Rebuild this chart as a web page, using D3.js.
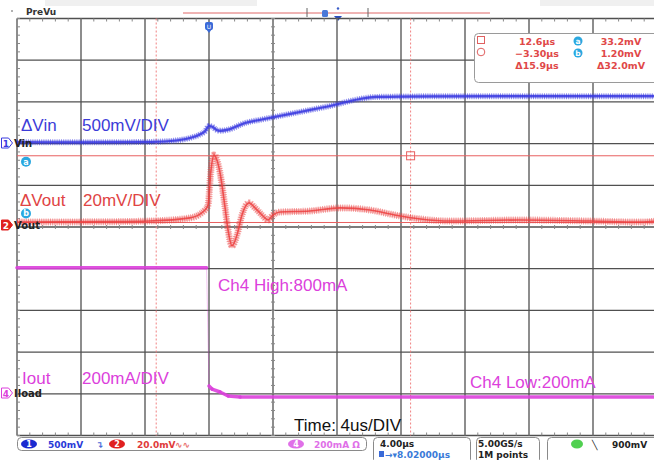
<!DOCTYPE html>
<html><head><meta charset="utf-8">
<script src="https://cdn.jsdelivr.net/npm/d3@7"></script>
<style>body{margin:0;background:#fff;} svg{display:block;}</style>
</head><body><svg id="c" width="654" height="460"></svg>
<script>
// ---------- data ----------
// time in microseconds (trigger at 0), 4 us / division
const timeTicks = [-12, -8, -4, 0, 4, 8, 12, 16, 20, 24, 28];
const divTicks = [-5, -4, -3, -2, -1, 0, 1, 2, 3, 4, 5];
// Ch1 Vin (AC, mV relative to marker), 500 mV/div
const vinT  = [-12, -8, -4, -2.4, -1.2, -0.6, -0.25, 0, 0.2, 0.45, 0.7, 1.2, 2.25, 3.3, 4.4, 6, 7.56, 9.44, 10.4, 14, 20, 28];
const vinMV = [10, 8, 12, 24, 60, 100, 140, 204, 196, 160, 146, 160, 240, 282, 324, 384, 444, 528, 552, 560, 562, 562];
// Ch2 Vout (AC, mV), 20 mV/div
const voutT  = [-12, -6, -3.7, -1.19, -0.25, -0.06, 0.125, 0.31, 0.5, 0.69, 1.0, 1.19, 1.44, 1.75, 2.06, 2.5, 2.875, 3.31, 3.69, 4.0, 4.44, 6.3, 8.2, 10.06, 11.6, 13.2, 15.06, 19.4, 23.8, 27, 28];
const voutMV = [1.4, 1.6, 1.9, 3.4, 7.2, 9.6, 26.4, 33.6, 31, 25, 8.6, -2.4, -10, -4.8, 4.8, 10.6, 8.2, 4.8, 2.4, 4.8, 6.2, 6.7, 8.2, 7.2, 4.8, 2.9, 1.9, 2.4, 1.9, 1.4, 1.9];
// Ch4 Iload (mA), 200 mA/div
const iT  = [-12, -0.15, 0.0, 0.19, 0.69, 1.2, 1.94, 28];
const iMA = [820, 820, 253, 238, 224, 205, 200, 200];
// cursors
const cursorT = [-3.30, 12.6];
const cursorMV = [33.2, 1.20];
const measLeft = ["12.6µs", "\u22123.30µs", "\u039415.9µs"];
const measRight = ["33.2mV", "1.20mV", "\u039432.0mV"];

// ---------- scales ----------
const svg = d3.select("#c");
const x = d3.scaleLinear().domain([-12, 28]).range([17, 657]);
const yDiv = d3.scaleLinear().domain([-5, 5]).range([435.5, 18.5]);
const yVin = d3.scaleLinear().domain([0, 500]).range([143, 101.3]);
const yVout = d3.scaleLinear().domain([0, 20]).range([225, 183.3]);
const yI = d3.scaleLinear().domain([200, 400]).range([397, 355.3]);

const SANS = "'Liberation Sans', Arial, sans-serif";
const UI = "'DejaVu Sans', sans-serif";
const BLUE = "#3a3ae0", RED = "#ec4040", MAG = "#dc3fdc";

// top header
svg.append("rect").attr("x", 45).attr("y", 0).attr("width", 212).attr("height", 6).attr("fill", "#f0f0f0");
svg.append("rect").attr("x", 540).attr("y", 0).attr("width", 114).attr("height", 6).attr("fill", "#f0f0f0");
svg.append("circle").attr("cx", 12).attr("cy", 11).attr("r", 1).attr("fill", "#999");
svg.append("text").attr("x", 26).attr("y", 15).text("PreVu").attr("font-family", UI).attr("font-size", 9).attr("font-weight", "bold").attr("fill", "#333");
svg.append("line").attr("x1", 183).attr("x2", 490).attr("y1", 13).attr("y2", 13).attr("stroke", "#e06868").attr("stroke-width", 1);
[307, 368].forEach(px => svg.append("line").attr("x1", px).attr("x2", px).attr("y1", 8).attr("y2", 17).attr("stroke", "#666"));
svg.append("rect").attr("x", 322).attr("y", 10).attr("width", 6).attr("height", 7).attr("rx", 1.5).attr("fill", "#4a78d8");
svg.append("circle").attr("cx", 338).attr("cy", 8.5).attr("r", 1.2).attr("fill", "#3a5cc8");
svg.append("path").attr("d", "M334,16 L342,16 L338,21 Z").attr("fill", "#2a4cc0");

// ---------- grid ----------
const g = svg.append("g");
timeTicks.forEach(t => g.append("line").attr("x1", x(t)).attr("x2", x(t)).attr("y1", yDiv(5)).attr("y2", yDiv(-5)).attr("stroke", "#505050").attr("stroke-width", 1.3));
divTicks.forEach(d => g.append("line").attr("x1", x(-12)).attr("x2", x(28)).attr("y1", yDiv(d)).attr("y2", yDiv(d)).attr("stroke", "#505050").attr("stroke-width", 1.3));
// minor ticks
const minorT = d3.range(-12, 28.01, 0.8);
const minorD = d3.range(-5, 5.01, 0.2);
minorT.forEach(t => {
  [[yDiv(5), 3], [yDiv(-5), -3], [yDiv(0) - 2, 4]].forEach(([yy, l]) =>
    g.append("line").attr("x1", x(t)).attr("x2", x(t)).attr("y1", yy).attr("y2", yy + l).attr("stroke", "#888").attr("stroke-width", 1));
});
minorD.forEach(d => {
  [[x(-12), 3], [x(4) - 2, 4]].forEach(([xx, l]) =>
    g.append("line").attr("y1", yDiv(d)).attr("y2", yDiv(d)).attr("x1", xx).attr("x2", xx + l).attr("stroke", "#888").attr("stroke-width", 1));
});

// ---------- cursors ----------
cursorMV.forEach(v => svg.append("line").attr("x1", x(-12)).attr("x2", x(28)).attr("y1", yVout(v)).attr("y2", yVout(v)).attr("stroke", "#e86060").attr("stroke-width", 1));
cursorT.forEach(t => svg.append("line").attr("x1", x(t)).attr("x2", x(t)).attr("y1", yDiv(5)).attr("y2", yDiv(-5)).attr("stroke", "#f08080").attr("stroke-width", 1).attr("stroke-dasharray", "2,2"));
svg.append("rect").attr("x", x(cursorT[1]) - 4).attr("y", yVout(cursorMV[0]) - 4).attr("width", 8).attr("height", 8).attr("fill", "none").attr("stroke", "#e86060");

// trigger marker on grid
svg.append("rect").attr("x", 205).attr("y", 22).attr("width", 8).attr("height", 8).attr("rx", 2).attr("fill", "#3a6ad8");
svg.append("path").attr("d", "M206,29 L212,29 L209,33 Z").attr("fill", "#3a6ad8");
svg.append("text").attr("x", 209).attr("y", 29).attr("text-anchor", "middle").text("U").attr("font-family", UI).attr("font-size", 6).attr("fill", "#fff");

// ---------- traces ----------
function trace(T, V, ys, color, bandW, coreW, bandOp) {
  const pts = T.map((t, i) => [x(t), ys(V[i])]);
  const line = d3.line().curve(d3.curveMonotoneX);
  // noise envelope (hatched texture)
  svg.append("path").attr("d", line(pts)).attr("fill", "none").attr("stroke", color).attr("stroke-width", bandW).attr("stroke-opacity", bandOp).attr("stroke-dasharray", "1,1.2").attr("stroke-linejoin", "round");
  svg.append("path").attr("d", line(pts)).attr("fill", "none").attr("stroke", color).attr("stroke-width", bandW - 2).attr("stroke-opacity", bandOp * 0.6).attr("stroke-linejoin", "round");
  svg.append("path").attr("d", line(pts)).attr("fill", "none").attr("stroke", color).attr("stroke-width", coreW).attr("stroke-opacity", 0.85).attr("stroke-linejoin", "round");
}
trace(vinT, vinMV, yVin, BLUE, 6, 2.2, 0.55);
trace(voutT, voutMV, yVout, RED, 7, 1.6, 0.5);
// Iload: fast edge drawn faint
(function () {
  const pts = iT.map((t, i) => [x(t), yI(iMA[i])]);
  for (let i = 0; i < pts.length - 1; i++) {
    const fast = Math.abs(pts[i + 1][1] - pts[i][1]) > 50;
    svg.append("line").attr("x1", pts[i][0]).attr("y1", pts[i][1]).attr("x2", pts[i + 1][0]).attr("y2", pts[i + 1][1])
      .attr("stroke", MAG).attr("stroke-width", fast ? 1 : 3.5).attr("stroke-opacity", fast ? 0.3 : 0.9).attr("stroke-linecap", "round");
  }
})();

// ---------- channel markers ----------
function marker(y, num, col, filled, name) {
  svg.append("path").attr("d", `M1.5,${y - 5} h7 l4,5 l-4,5 h-7 Z`).attr("fill", filled ? col : "#fff").attr("stroke", col).attr("stroke-width", 1);
  svg.append("text").attr("x", 6).attr("y", y + 3.5).attr("text-anchor", "middle").text(num).attr("font-family", UI).attr("font-size", 9).attr("font-weight", "bold").attr("fill", filled ? "#fff" : col);
  svg.append("text").attr("x", 14).attr("y", y + 3.5).text(name).attr("font-family", UI).attr("font-size", 10).attr("font-weight", "bold").attr("fill", "#222");
}
marker(yVin(0), "1", BLUE, false, "Vin");
marker(yVout(0), "2", "#e02020", true, "Vout");
marker(393, "4", MAG, false, "Iload");
[["a", yVout(cursorMV[0]) + 6], ["b", yVout(cursorMV[1]) - 9]].forEach(([l, yy]) => {
  svg.append("circle").attr("cx", 26).attr("cy", yy).attr("r", 5).attr("fill", "#2aa8e0");
  svg.append("text").attr("x", 26).attr("y", yy + 3).attr("text-anchor", "middle").text(l).attr("font-family", UI).attr("font-size", 8).attr("font-weight", "bold").attr("fill", "#fff");
});

// ---------- annotations ----------
function label(tx, px, py, col, fs) {
  svg.append("text").attr("x", px).attr("y", py).text(tx).attr("font-family", SANS).attr("font-size", fs || 17).attr("fill", col);
}
label("\u0394Vin", 21, 131, "#3c3cd8");
label("500mV/DIV", 82, 131, "#3c3cd8");
label("\u0394Vout", 20, 206, "#e04444");
label("20mV/DIV", 83, 206, "#e04444");
label("Ch4 High:800mA", 218, 291, MAG);
label("Iout", 22, 384, MAG);
label("200mA/DIV", 82, 384, MAG);
label("Ch4 Low:200mA", 470, 388, MAG);
label("Time: 4us/DIV", 294, 431, "#111");

// ---------- measurement box ----------
svg.append("rect").attr("x", 474.5).attr("y", 33.5).attr("width", 200).attr("height", 49).attr("rx", 4).attr("fill", "#fff").attr("stroke", "#9a9a9a");
svg.append("rect").attr("x", 477.5).attr("y", 36.5).attr("width", 7).attr("height", 7).attr("fill", "none").attr("stroke", "#e06060");
svg.append("circle").attr("cx", 481).attr("cy", 52).attr("r", 3.8).attr("fill", "none").attr("stroke", "#e06060");
measLeft.forEach((s, i) => svg.append("text").attr("x", 537).attr("y", 45 + i * 12).attr("text-anchor", "middle").text(s).attr("font-family", UI).attr("font-size", 9.5).attr("font-weight", "bold").attr("fill", "#e04848"));
measRight.forEach((s, i) => svg.append("text").attr("x", 621).attr("y", 45 + i * 12).attr("text-anchor", "middle").text(s).attr("font-family", UI).attr("font-size", 9.5).attr("font-weight", "bold").attr("fill", "#e04848"));
["a", "b"].forEach((l, i) => {
  svg.append("circle").attr("cx", 578).attr("cy", 41 + i * 12).attr("r", 4.5).attr("fill", "#2aa8e0");
  svg.append("text").attr("x", 578).attr("y", 44 + i * 12).attr("text-anchor", "middle").text(l).attr("font-family", UI).attr("font-size", 7.5).attr("font-weight", "bold").attr("fill", "#fff");
});

// ---------- bottom status bar ----------
function box(x0, y0, w, h) { svg.append("rect").attr("x", x0).attr("y", y0).attr("width", w).attr("height", h).attr("rx", 4).attr("fill", "#fff").attr("stroke", "#8a8a8a"); }
box(17.5, 437.5, 349, 13);
box(373.5, 437.5, 97, 26);
box(476.5, 437.5, 63, 26);
box(547.5, 437.5, 120, 26);
function pill(cx, col, num) {
  svg.append("ellipse").attr("cx", cx).attr("cy", 444).attr("rx", 8).attr("ry", 4.5).attr("fill", col);
  svg.append("text").attr("x", cx).attr("y", 447).attr("text-anchor", "middle").text(num).attr("font-family", UI).attr("font-size", 8).attr("font-weight", "bold").attr("fill", "#fff");
}
function st(tx, px, py, col) { svg.append("text").attr("x", px).attr("y", py).text(tx).attr("font-family", UI).attr("font-size", 9).attr("font-weight", "bold").attr("fill", col); }
pill(29, "#1a2ad0", "1");
st("500mV", 48, 448, "#2a3ad8");
st("\u21B4", 96, 448, "#4a6ad8");
pill(117, "#e02020", "2");
st("20.0mV", 137, 448, "#e03a3a");
st("\u223F\u223F", 175, 448, "#e87070");
pill(296, "#e070e8", "4");
st("200mA \u03A9", 314, 448, "#e070e8");
st("4.00µs", 380, 447, "#222");
svg.append("rect").attr("x", 379).attr("y", 451).attr("width", 5).attr("height", 6).attr("fill", "#3a6ad8");
st("\u2192\u25BE8.02000µs", 385, 458, "#3a7ad8");
st("5.00GS/s", 478, 447, "#222");
st("1M points", 478, 458, "#222");
svg.append("ellipse").attr("cx", 577).attr("cy", 444).attr("rx", 6).attr("ry", 4.5).attr("fill", "#50d050");
st("\u2572", 592, 448, "#222");
st("900mV", 612, 448, "#222");
</script></body></html>
